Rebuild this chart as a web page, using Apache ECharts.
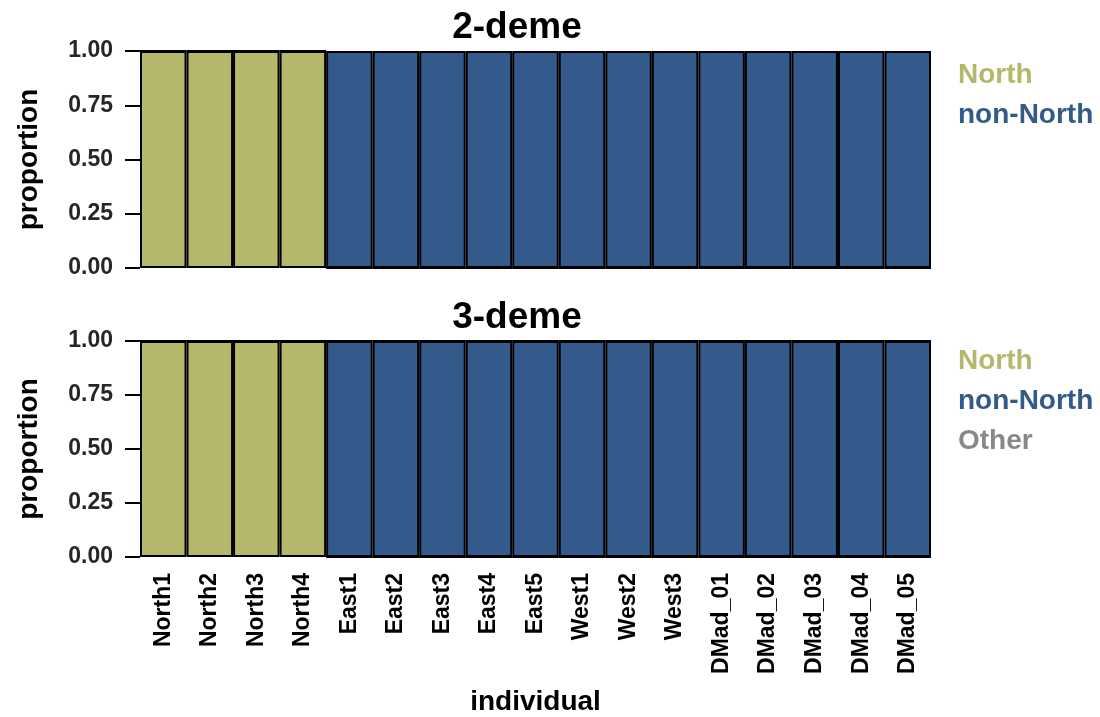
<!DOCTYPE html>
<html>
<head>
<meta charset="utf-8">
<script src="https://cdn.jsdelivr.net/npm/echarts@6/dist/echarts.min.js"></script>
<style>html,body{margin:0;padding:0;background:#fff;}#c{width:1100px;height:717px;}</style>
</head>
<body>
<div id="c"></div>
<script>
const individuals = ['North1','North2','North3','North4','East1','East2','East3','East4','East5','West1','West2','West3','DMad_01','DMad_02','DMad_03','DMad_04','DMad_05'];
const north2    = [1,1,1,1,0,0,0,0,0,0,0,0,0,0,0,0,0];
const nonNorth2 = [0,0,0,0,1,1,1,1,1,1,1,1,1,1,1,1,1];
const north3    = [1,1,1,1,0,0,0,0,0,0,0,0,0,0,0,0,0];
const nonNorth3 = [0,0,0,0,1,1,1,1,1,1,1,1,1,1,1,1,1];
const other3    = [0,0,0,0,0,0,0,0,0,0,0,0,0,0,0,0,0];
const yTicks = [0, 0.25, 0.5, 0.75, 1];
const panelTitles = ['2-deme', '3-deme'];

const COL = {North:'#b5b86a', 'non-North':'#335a8b', Other:'#888888'};
const FONT = 'Liberation Sans';

const chart = echarts.init(document.getElementById('c'), null, {renderer:'canvas'});

function yAxis(gi){
  return {
    gridIndex: gi, type:'value', min: yTicks[0], max: yTicks[yTicks.length-1], interval: 0.25,
    name:'proportion', nameLocation:'middle', nameGap: 97, nameRotate: 90,
    nameTextStyle:{fontFamily:FONT, fontWeight:'bold', fontSize:28, color:'#000'},
    axisLine:{show:false},
    axisTick:{show:true, length:15, lineStyle:{color:'#000', width:2}},
    axisLabel:{fontFamily:FONT, fontWeight:'bold', fontSize:23, color:'#262626', margin:27,
      formatter: v => v.toFixed(2)},
    splitLine:{show:false}
  };
}
function xAxis(gi, showLabels){
  const a = {
    gridIndex: gi, type:'category', data: individuals,
    axisLine:{show:false}, axisTick:{show:false},
    axisLabel:{show:showLabels, rotate:90, interval:0, fontFamily:FONT, fontWeight:'bold', fontSize:23, color:'#000', margin:16},
    splitLine:{show:false}
  };
  if (showLabels){
    a.name = 'individual'; a.nameLocation='middle'; a.nameGap = 131;
    a.nameTextStyle = {fontFamily:FONT, fontWeight:'bold', fontSize:28, color:'#000'};
  }
  return a;
}
function bar(name, data, gi, stack){
  return {
    name, type:'bar', data, xAxisIndex:gi, yAxisIndex:gi, stack,
    barCategoryGap:'0%', barGap:'0%',
    itemStyle:{color:COL[name], borderColor:'#000', borderWidth:2},
    emphasis:{disabled:true}, animation:false
  };
}
function legendText(name){ return {name, textStyle:{color:COL[name]}}; }

chart.setOption({
  animation:false,
  title: panelTitles.map((t,i)=>({
    text:t, left:512, top: i===0 ? 4 : 294, textAlign:'center',
    textStyle:{fontFamily:FONT, fontWeight:'bold', fontSize:37, color:'#000'}
  })),
  grid:[
    {left:140, top:51, width:791, height:217},
    {left:140, top:341, width:791, height:216}
  ],
  xAxis:[xAxis(0,false), xAxis(1,true)],
  yAxis:[yAxis(0), yAxis(1)],
  legend:[
    {data:['North','non-North'].map(legendText), orient:'vertical', left:947, top:55,
     icon:'rect', itemWidth:0, itemHeight:0, itemGap:10, selectedMode:false,
     textStyle:{fontFamily:FONT, fontWeight:'bold', fontSize:28, lineHeight:30, padding:0}},
    {data:['North','non-North','Other'].map(legendText), orient:'vertical', left:947, top:341,
     icon:'rect', itemWidth:0, itemHeight:0, itemGap:10, selectedMode:false,
     textStyle:{fontFamily:FONT, fontWeight:'bold', fontSize:28, lineHeight:30, padding:0}}
  ],
  series:[
    bar('North', north2, 0, 's2'),
    bar('non-North', nonNorth2, 0, 's2'),
    bar('North', north3, 1, 's3'),
    bar('non-North', nonNorth3, 1, 's3'),
    bar('Other', other3, 1, 's3')
  ]
});
</script>
</body>
</html>
